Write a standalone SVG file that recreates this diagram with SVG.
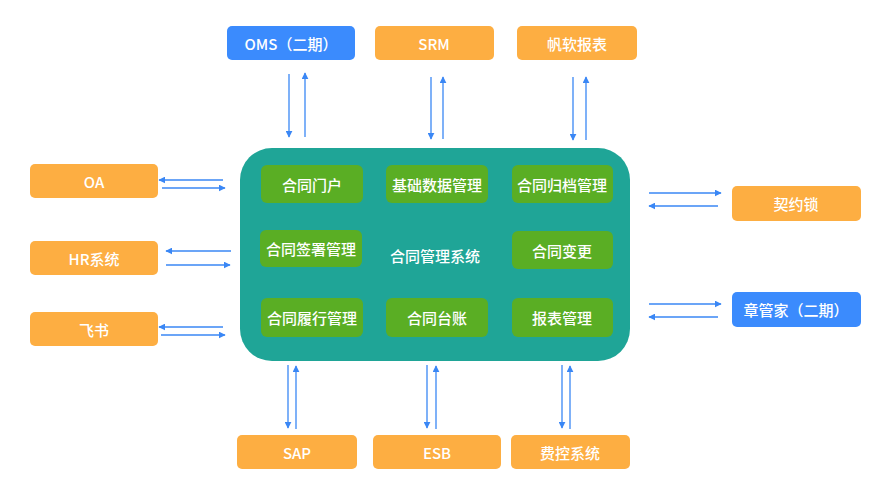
<svg xmlns="http://www.w3.org/2000/svg" width="891" height="499" viewBox="0 0 891 499">
<defs>
<marker id="ah" viewBox="0 0 10 10" refX="9" refY="5" markerWidth="7" markerHeight="7" markerUnits="userSpaceOnUse" orient="auto">
<path d="M0,0 L10,5 L0,10 z" fill="#3a87f5"/>
</marker>
<style>
.o{fill:#fdae42}
.b{fill:#3b8bfd}
.g{fill:#5aae24}
.t{font-family:"Noto Sans CJK SC","Noto Sans",sans-serif;font-size:15px;font-weight:500;fill:#fff;text-anchor:middle;dominant-baseline:central}
.c line{stroke:#3a87f5;stroke-width:1.3;marker-end:url(#ah)}
</style>
</defs>
<rect width="891" height="499" fill="#fff"/>
<g id="main">
<rect x="240" y="148" width="390" height="213" rx="32" fill="#1fa597"/>
<text class="t" x="435" y="255">合同管理系统</text>
</g>
<g id="m1"><rect class="g" x="261" y="165" width="102" height="38" rx="6"/><text class="t" x="312" y="184">合同门户</text></g>
<g id="m2"><rect class="g" x="386" y="165" width="102" height="38" rx="6"/><text class="t" x="437" y="184">基础数据管理</text></g>
<g id="m3"><rect class="g" x="512" y="165" width="101" height="38" rx="6"/><text class="t" x="562" y="184">合同归档管理</text></g>
<g id="m4"><rect class="g" x="260" y="230" width="102" height="37" rx="6"/><text class="t" x="311" y="248">合同签署管理</text></g>
<g id="m5"><rect class="g" x="512" y="231" width="101" height="38" rx="6"/><text class="t" x="562" y="250">合同变更</text></g>
<g id="m6"><rect class="g" x="261" y="298" width="102" height="39" rx="6"/><text class="t" x="312" y="317">合同履行管理</text></g>
<g id="m7"><rect class="g" x="386" y="298" width="102" height="39" rx="6"/><text class="t" x="437" y="317">合同台账</text></g>
<g id="m8"><rect class="g" x="512" y="298" width="101" height="39" rx="6"/><text class="t" x="562" y="317">报表管理</text></g>
<g id="oms"><rect class="b" x="227" y="26" width="128" height="34" rx="5"/><text class="t" x="291" y="43">OMS（二期）</text></g>
<g id="srm"><rect class="o" x="375" y="26" width="119" height="34" rx="5"/><text class="t" x="434" y="43">SRM</text></g>
<g id="fr"><rect class="o" x="517" y="26" width="120" height="34" rx="5"/><text class="t" x="577" y="43">帆软报表</text></g>
<g id="oa"><rect class="o" x="30" y="164" width="128" height="34" rx="5"/><text class="t" x="94" y="181">OA</text></g>
<g id="hr"><rect class="o" x="30" y="241" width="128" height="34" rx="5"/><text class="t" x="94" y="258">HR系统</text></g>
<g id="fs"><rect class="o" x="30" y="312" width="128" height="34" rx="5"/><text class="t" x="94" y="329">飞书</text></g>
<g id="qys"><rect class="o" x="732" y="186" width="129" height="35" rx="5"/><text class="t" x="796" y="203">契约锁</text></g>
<g id="zgj"><rect class="b" x="732" y="292" width="129" height="35" rx="5"/><text class="t" x="796" y="309">章管家（二期）</text></g>
<g id="sap"><rect class="o" x="237" y="435" width="120" height="34" rx="5"/><text class="t" x="297" y="452">SAP</text></g>
<g id="esb"><rect class="o" x="373" y="435" width="128" height="34" rx="5"/><text class="t" x="437" y="452">ESB</text></g>
<g id="fk"><rect class="o" x="511" y="435" width="119" height="34" rx="5"/><text class="t" x="570" y="452">费控系统</text></g>
<g id="connectors" class="c">
<line x1="289" y1="74" x2="289" y2="137"/>
<line x1="305" y1="137" x2="305" y2="73"/>
<line x1="431" y1="77" x2="431" y2="139"/>
<line x1="443" y1="139" x2="443" y2="77"/>
<line x1="573" y1="77" x2="573" y2="140"/>
<line x1="586" y1="140" x2="586" y2="77"/>
<line x1="223" y1="180" x2="159" y2="180"/>
<line x1="162" y1="188" x2="225" y2="188"/>
<line x1="231" y1="251" x2="166" y2="251"/>
<line x1="166" y1="265" x2="230" y2="265"/>
<line x1="223" y1="327" x2="159" y2="327"/>
<line x1="161" y1="335" x2="225" y2="335"/>
<line x1="649" y1="193" x2="721" y2="193"/>
<line x1="718" y1="206" x2="649" y2="206"/>
<line x1="649" y1="304" x2="721" y2="304"/>
<line x1="718" y1="317" x2="649" y2="317"/>
<line x1="288" y1="365" x2="288" y2="428"/>
<line x1="296" y1="429" x2="296" y2="366"/>
<line x1="427" y1="365" x2="427" y2="428"/>
<line x1="436" y1="429" x2="436" y2="366"/>
<line x1="562" y1="365" x2="562" y2="428"/>
<line x1="570" y1="429" x2="570" y2="366"/>
</g>
</svg>
